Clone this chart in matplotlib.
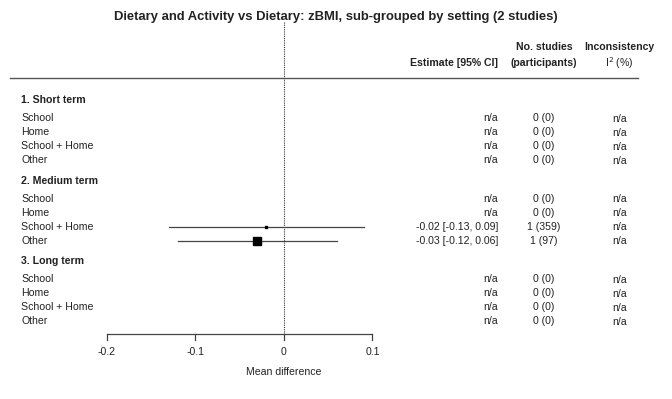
import numpy as np
import matplotlib
matplotlib.use("Agg")
import matplotlib.pyplot as plt
import matplotlib.transforms as mtransforms

plt.rcParams['font.family'] = ['Liberation Sans', 'DejaVu Sans']

title = "Dietary and Activity vs Dietary: zBMI, sub-grouped by setting (2 studies)"
groups = ["1. Short term", "2. Medium term", "3. Long term"]
settings = ["School", "Home", "School + Home", "Other"]

# one entry per group x setting, NaN where no studies
est = [[np.nan, np.nan, np.nan, np.nan],
       [np.nan, np.nan, -0.02, -0.03],
       [np.nan, np.nan, np.nan, np.nan]]
ci_lo = [[np.nan] * 4, [np.nan, np.nan, -0.13, -0.12], [np.nan] * 4]
ci_hi = [[np.nan] * 4, [np.nan, np.nan, 0.09, 0.06], [np.nan] * 4]
n_studies = [[0, 0, 0, 0], [0, 0, 1, 1], [0, 0, 0, 0]]
n_part = [[0, 0, 0, 0], [0, 0, 359, 97], [0, 0, 0, 0]]
box_size = [[0] * 4, [0, 0, 1.6, 5.8], [0] * 4]
xticks = [-0.2, -0.1, 0, 0.1]

W, H = 672, 399
fig = plt.figure(figsize=(W / 100, H / 100), dpi=100)
ax = fig.add_axes([0, 0, 1, 1])
# x in mean-difference units, y in pixel rows from the top
x0_px, unit_px = 284, 885
ax.set_xlim(-x0_px / unit_px, (W - x0_px) / unit_px)
ax.set_ylim(H, 0)
ax.axis('off')

tr = mtransforms.blended_transform_factory(fig.transFigure, ax.transData)
fx = lambda px: px / W
txt = '#222222'
fs = 7.6
col_est, col_n, col_i = 498, 544, 619.5

ax.text(0.5, 17, title, transform=tr, ha='center', va='center',
        fontsize=9.4, fontweight='bold', color=txt)

# column headers
ax.text(fx(col_est), 63, "Estimate [95% CI]", transform=tr, ha='right', va='center',
        fontsize=fs, fontweight='bold', color=txt)
ax.text(fx(col_n), 47, "No. studies", transform=tr, ha='center', va='center',
        fontsize=fs, fontweight='bold', color=txt)
ax.text(fx(col_n), 63, "(participants)", transform=tr, ha='center', va='center',
        fontsize=fs, fontweight='bold', color=txt)
ax.text(fx(col_i), 47, "Inconsistency", transform=tr, ha='center', va='center',
        fontsize=fs, fontweight='bold', color=txt)
ax.text(fx(col_i), 63, r"I$^{2}$ (%)", transform=tr, ha='center', va='center',
        fontsize=fs, color=txt)

ax.plot([fx(10), fx(638)], [78, 78], transform=tr, color='#555555', lw=1.0)

# reference line at zero
ax.plot([0, 0], [22, 334], color='#333333', lw=0.8, ls=(0, (1, 1)))

for g, gname in enumerate(groups):
    hy = 100 + g * 80.5
    ax.text(fx(21), hy, gname, transform=tr, ha='left', va='center',
            fontsize=fs, fontweight='bold', color=txt)
    for k, s in enumerate(settings):
        y = hy + 18 + k * 14
        ax.text(fx(21), y, s, transform=tr, ha='left', va='center',
                fontsize=fs, color=txt)
        e = est[g][k]
        if np.isnan(e):
            etxt = "n/a"
        else:
            etxt = f"{e:.2f} [{ci_lo[g][k]:.2f}, {ci_hi[g][k]:.2f}]"
            ax.plot([ci_lo[g][k], ci_hi[g][k]], [y, y], color='#444444', lw=0.9)
            ax.plot([e], [y], marker='s', ms=box_size[g][k], color='black',
                    mec='black', ls='none')
        ax.text(fx(col_est), y, etxt, transform=tr, ha='right', va='center',
                fontsize=fs, color=txt)
        ax.text(fx(col_n), y, f"{n_studies[g][k]} ({n_part[g][k]})", transform=tr,
                ha='center', va='center', fontsize=fs, color=txt)
        ax.text(fx(col_i), y + 1, "n/a", transform=tr, ha='center', va='center',
                fontsize=fs, color=txt)

# x axis
ax.plot([xticks[0], xticks[-1]], [334, 334], color='#444444', lw=0.9)
for t in xticks:
    ax.plot([t, t], [334, 340], color='#444444', lw=0.9)
    ax.text(t, 352, f"{t:g}", ha='center', va='center', fontsize=fs, color=txt)
ax.text(0, 372, "Mean difference", ha='center', va='center', fontsize=fs, color=txt)

fig.savefig("out.png", dpi=100)
